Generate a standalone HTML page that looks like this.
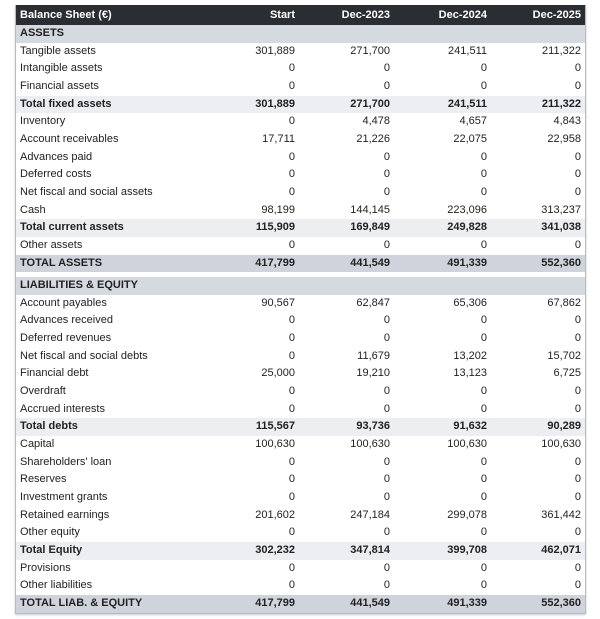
<!DOCTYPE html>
<html><head><meta charset="utf-8"><style>
body{margin:0;background:#fff;width:600px;height:619px;overflow:hidden;font-family:"Liberation Sans","DejaVu Sans",sans-serif;}
.t{position:absolute;left:15px;top:5px;width:569px;border:1px solid #b8bcc2;border-top:none;box-shadow:0 1px 2px #ccc;}
.r{position:relative;height:17.68px;font-size:11px;color:#222;line-height:17.68px;}
.r span{position:absolute;top:0;}
.r .l{left:4px}
.r .a{right:290px}.r .b{right:195px}.r .c{right:98px}.r .d{right:4px}
.h{background:#2a2d31;color:#fff;font-weight:bold;height:20px;line-height:20px;}
.s{background:#d5d9e0;font-weight:bold;}
.tot{background:#eceef1;font-weight:bold;}
.gt{background:#cfd4dc;font-weight:bold;}
.sp{height:4.5px;}
</style></head><body>
<div class="t">
<div class="r h"><span class="l">Balance Sheet (€)</span><span class="a">Start</span><span class="b">Dec-2023</span><span class="c">Dec-2024</span><span class="d">Dec-2025</span></div>
<div class="r s"><span class="l">ASSETS</span></div>
<div class="r"><span class="l">Tangible assets</span><span class="a">301,889</span><span class="b">271,700</span><span class="c">241,511</span><span class="d">211,322</span></div>
<div class="r"><span class="l">Intangible assets</span><span class="a">0</span><span class="b">0</span><span class="c">0</span><span class="d">0</span></div>
<div class="r"><span class="l">Financial assets</span><span class="a">0</span><span class="b">0</span><span class="c">0</span><span class="d">0</span></div>
<div class="r tot"><span class="l">Total fixed assets</span><span class="a">301,889</span><span class="b">271,700</span><span class="c">241,511</span><span class="d">211,322</span></div>
<div class="r"><span class="l">Inventory</span><span class="a">0</span><span class="b">4,478</span><span class="c">4,657</span><span class="d">4,843</span></div>
<div class="r"><span class="l">Account receivables</span><span class="a">17,711</span><span class="b">21,226</span><span class="c">22,075</span><span class="d">22,958</span></div>
<div class="r"><span class="l">Advances paid</span><span class="a">0</span><span class="b">0</span><span class="c">0</span><span class="d">0</span></div>
<div class="r"><span class="l">Deferred costs</span><span class="a">0</span><span class="b">0</span><span class="c">0</span><span class="d">0</span></div>
<div class="r"><span class="l">Net fiscal and social assets</span><span class="a">0</span><span class="b">0</span><span class="c">0</span><span class="d">0</span></div>
<div class="r"><span class="l">Cash</span><span class="a">98,199</span><span class="b">144,145</span><span class="c">223,096</span><span class="d">313,237</span></div>
<div class="r tot"><span class="l">Total current assets</span><span class="a">115,909</span><span class="b">169,849</span><span class="c">249,828</span><span class="d">341,038</span></div>
<div class="r"><span class="l">Other assets</span><span class="a">0</span><span class="b">0</span><span class="c">0</span><span class="d">0</span></div>
<div class="r gt"><span class="l">TOTAL ASSETS</span><span class="a">417,799</span><span class="b">441,549</span><span class="c">491,339</span><span class="d">552,360</span></div>
<div class="sp"></div>
<div class="r s"><span class="l">LIABILITIES &amp; EQUITY</span></div>
<div class="r"><span class="l">Account payables</span><span class="a">90,567</span><span class="b">62,847</span><span class="c">65,306</span><span class="d">67,862</span></div>
<div class="r"><span class="l">Advances received</span><span class="a">0</span><span class="b">0</span><span class="c">0</span><span class="d">0</span></div>
<div class="r"><span class="l">Deferred revenues</span><span class="a">0</span><span class="b">0</span><span class="c">0</span><span class="d">0</span></div>
<div class="r"><span class="l">Net fiscal and social debts</span><span class="a">0</span><span class="b">11,679</span><span class="c">13,202</span><span class="d">15,702</span></div>
<div class="r"><span class="l">Financial debt</span><span class="a">25,000</span><span class="b">19,210</span><span class="c">13,123</span><span class="d">6,725</span></div>
<div class="r"><span class="l">Overdraft</span><span class="a">0</span><span class="b">0</span><span class="c">0</span><span class="d">0</span></div>
<div class="r"><span class="l">Accrued interests</span><span class="a">0</span><span class="b">0</span><span class="c">0</span><span class="d">0</span></div>
<div class="r tot"><span class="l">Total debts</span><span class="a">115,567</span><span class="b">93,736</span><span class="c">91,632</span><span class="d">90,289</span></div>
<div class="r"><span class="l">Capital</span><span class="a">100,630</span><span class="b">100,630</span><span class="c">100,630</span><span class="d">100,630</span></div>
<div class="r"><span class="l">Shareholders' loan</span><span class="a">0</span><span class="b">0</span><span class="c">0</span><span class="d">0</span></div>
<div class="r"><span class="l">Reserves</span><span class="a">0</span><span class="b">0</span><span class="c">0</span><span class="d">0</span></div>
<div class="r"><span class="l">Investment grants</span><span class="a">0</span><span class="b">0</span><span class="c">0</span><span class="d">0</span></div>
<div class="r"><span class="l">Retained earnings</span><span class="a">201,602</span><span class="b">247,184</span><span class="c">299,078</span><span class="d">361,442</span></div>
<div class="r"><span class="l">Other equity</span><span class="a">0</span><span class="b">0</span><span class="c">0</span><span class="d">0</span></div>
<div class="r tot"><span class="l">Total Equity</span><span class="a">302,232</span><span class="b">347,814</span><span class="c">399,708</span><span class="d">462,071</span></div>
<div class="r"><span class="l">Provisions</span><span class="a">0</span><span class="b">0</span><span class="c">0</span><span class="d">0</span></div>
<div class="r"><span class="l">Other liabilities</span><span class="a">0</span><span class="b">0</span><span class="c">0</span><span class="d">0</span></div>
<div class="r gt"><span class="l">TOTAL LIAB. &amp; EQUITY</span><span class="a">417,799</span><span class="b">441,549</span><span class="c">491,339</span><span class="d">552,360</span></div>
</div>
</body></html>
